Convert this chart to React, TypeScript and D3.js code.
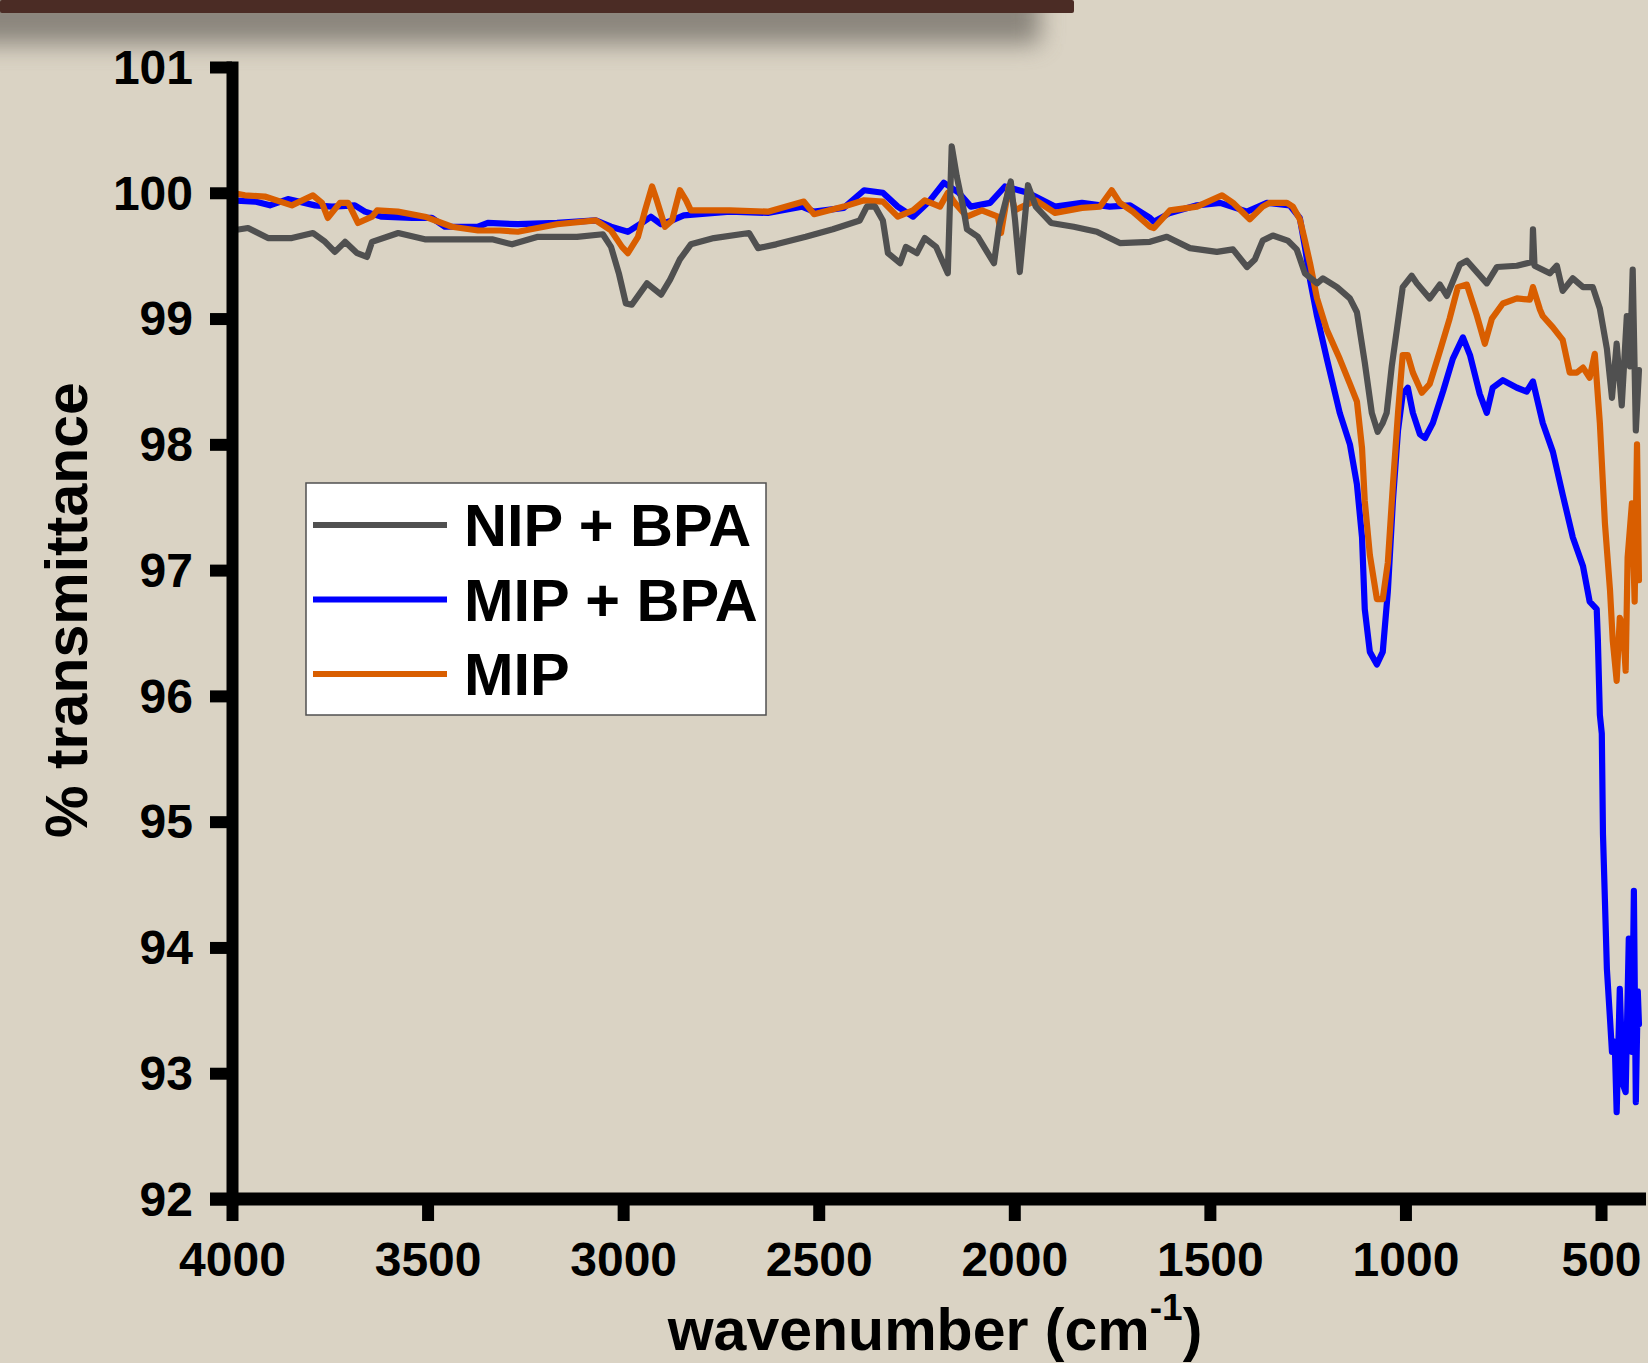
import { useEffect, useRef } from 'react'
import * as d3 from 'd3'

const WIDTH = 1648
const HEIGHT = 1363
const FONT = '"Liberation Sans", Arial, Helvetica, sans-serif'

const xTicks = [4000, 3500, 3000, 2500, 2000, 1500, 1000, 500]
const yTicks = [92, 93, 94, 95, 96, 97, 98, 99, 100, 101]

// NIP + BPA (grey)
const nipWn = [4000, 3959, 3908, 3847, 3793, 3762, 3737, 3711, 3680, 3655, 3642, 3575, 3507, 3422, 3335, 3284, 3251, 3218, 3118, 3052, 3031, 3011, 2993, 2978, 2939, 2903, 2880, 2855, 2827, 2768, 2678, 2655, 2609, 2533, 2464, 2395, 2377, 2356, 2336, 2323, 2292, 2277, 2249, 2229, 2200, 2170, 2160, 2147, 2131, 2121, 2093, 2052, 2039, 2009, 1998, 1986, 1965, 1945, 1906, 1848, 1789, 1730, 1653, 1610, 1551, 1482, 1441, 1405, 1385, 1365, 1339, 1301, 1278, 1257, 1226, 1211, 1175, 1142, 1124, 1104, 1086, 1071, 1058, 1048, 1035, 1022, 1007, 984, 971, 938, 912, 894, 861, 843, 792, 766, 715, 676, 674, 670, 631, 613, 598, 572, 546, 521, 503, 485, 472, 460, 447, 434, 426, 419, 411, 403]
const nipT = [99.70, 99.72, 99.64, 99.64, 99.68, 99.61, 99.53, 99.61, 99.52, 99.49, 99.61, 99.68, 99.63, 99.63, 99.63, 99.59, 99.62, 99.65, 99.65, 99.67, 99.57, 99.36, 99.12, 99.11, 99.28, 99.19, 99.31, 99.47, 99.59, 99.64, 99.68, 99.56, 99.59, 99.65, 99.71, 99.78, 99.89, 99.89, 99.78, 99.52, 99.44, 99.57, 99.52, 99.64, 99.57, 99.36, 100.37, 100.13, 99.89, 99.71, 99.65, 99.44, 99.73, 100.09, 99.78, 99.37, 100.06, 99.89, 99.76, 99.73, 99.69, 99.60, 99.61, 99.65, 99.56, 99.53, 99.55, 99.41, 99.47, 99.62, 99.66, 99.62, 99.55, 99.36, 99.28, 99.32, 99.25, 99.16, 99.05, 98.65, 98.25, 98.10, 98.17, 98.25, 98.62, 98.91, 99.25, 99.34, 99.28, 99.16, 99.27, 99.18, 99.43, 99.46, 99.28, 99.41, 99.42, 99.45, 99.71, 99.42, 99.36, 99.42, 99.22, 99.32, 99.25, 99.25, 99.08, 98.76, 98.37, 98.80, 98.31, 99.02, 98.62, 99.39, 98.11, 98.59]

// MIP + BPA (blue)
const mipBpaWn = [4000, 3941, 3903, 3857, 3788, 3744, 3686, 3660, 3617, 3540, 3489, 3456, 3371, 3346, 3269, 3169, 3070, 3031, 2988, 2952, 2929, 2903, 2875, 2845, 2727, 2630, 2543, 2512, 2436, 2384, 2336, 2298, 2259, 2218, 2180, 2142, 2111, 2062, 2024, 1965, 1896, 1827, 1756, 1704, 1653, 1643, 1602, 1533, 1474, 1405, 1354, 1296, 1270, 1257, 1244, 1226, 1201, 1168, 1142, 1124, 1111, 1104, 1091, 1073, 1058, 1045, 1032, 1019, 1007, 994, 981, 963, 950, 930, 904, 879, 853, 835, 810, 792, 777, 751, 715, 690, 674, 649, 623, 598, 572, 546, 529, 511, 508, 503, 498, 495, 490, 485, 477, 472, 465, 460, 452, 444, 437, 429, 421, 416, 411, 406, 403]
const mipBpaT = [99.94, 99.93, 99.90, 99.95, 99.90, 99.89, 99.90, 99.85, 99.81, 99.80, 99.80, 99.73, 99.73, 99.76, 99.75, 99.76, 99.78, 99.73, 99.69, 99.76, 99.81, 99.75, 99.78, 99.82, 99.85, 99.84, 99.89, 99.85, 99.88, 100.02, 100.00, 99.89, 99.81, 99.93, 100.08, 100.00, 99.89, 99.92, 100.05, 100.00, 99.89, 99.92, 99.89, 99.90, 99.80, 99.77, 99.84, 99.90, 99.92, 99.85, 99.92, 99.90, 99.80, 99.57, 99.31, 99.02, 98.68, 98.25, 98.00, 97.68, 97.26, 96.69, 96.35, 96.25, 96.35, 96.83, 97.55, 98.11, 98.40, 98.45, 98.25, 98.08, 98.05, 98.17, 98.42, 98.68, 98.85, 98.71, 98.40, 98.25, 98.45, 98.51, 98.45, 98.42, 98.50, 98.17, 97.94, 97.60, 97.26, 97.03, 96.75, 96.69, 96.44, 95.85, 95.70, 94.90, 94.37, 93.83, 93.43, 93.17, 93.25, 92.69, 93.67, 92.91, 92.85, 94.07, 93.17, 94.45, 92.77, 93.65, 93.39]

// MIP (orange)
const mipWn = [4000, 3967, 3916, 3847, 3793, 3770, 3755, 3724, 3703, 3678, 3642, 3629, 3576, 3507, 3438, 3371, 3315, 3269, 3169, 3070, 3031, 3003, 2988, 2962, 2944, 2926, 2914, 2893, 2875, 2855, 2839, 2827, 2727, 2630, 2538, 2512, 2436, 2384, 2336, 2298, 2259, 2229, 2190, 2170, 2152, 2121, 2083, 2042, 2034, 2014, 1998, 1986, 1945, 1896, 1827, 1781, 1751, 1730, 1697, 1653, 1643, 1602, 1533, 1469, 1441, 1398, 1365, 1347, 1303, 1288, 1270, 1257, 1244, 1226, 1201, 1168, 1142, 1124, 1111, 1104, 1091, 1073, 1058, 1045, 1032, 1019, 1007, 994, 981, 958, 938, 912, 887, 866, 843, 817, 797, 779, 751, 715, 682, 674, 656, 649, 623, 598, 580, 562, 546, 529, 516, 503, 490, 477, 470, 460, 452, 444, 437, 432, 421, 414, 408, 403]
const mipT = [100.00, 99.98, 99.97, 99.90, 99.98, 99.92, 99.80, 99.92, 99.92, 99.76, 99.81, 99.86, 99.85, 99.81, 99.73, 99.70, 99.70, 99.69, 99.75, 99.78, 99.70, 99.57, 99.52, 99.65, 99.86, 100.05, 99.94, 99.73, 99.78, 100.02, 99.94, 99.86, 99.86, 99.85, 99.93, 99.83, 99.89, 99.94, 99.93, 99.81, 99.86, 99.94, 99.89, 100.00, 99.92, 99.81, 99.86, 99.81, 99.68, 100.05, 99.86, 99.88, 99.94, 99.84, 99.88, 99.89, 100.02, 99.92, 99.85, 99.73, 99.72, 99.86, 99.89, 99.98, 99.92, 99.79, 99.89, 99.92, 99.92, 99.89, 99.79, 99.62, 99.44, 99.16, 98.91, 98.68, 98.48, 98.34, 97.97, 97.55, 97.12, 96.77, 96.77, 97.06, 97.68, 98.25, 98.71, 98.71, 98.57, 98.41, 98.48, 98.74, 99.00, 99.25, 99.27, 99.02, 98.80, 99.00, 99.12, 99.16, 99.15, 99.25, 99.07, 99.02, 98.93, 98.83, 98.57, 98.57, 98.61, 98.53, 98.72, 98.17, 97.37, 96.84, 96.44, 96.12, 96.62, 96.55, 96.20, 97.10, 97.53, 96.75, 98.00, 96.92]

const seriesLabels = ['NIP + BPA', 'MIP + BPA', 'MIP']
const seriesColors = ['#505050', '#0000ff', '#d95e00']
const seriesWn = [nipWn, mipBpaWn, mipWn]
const seriesT = [nipT, mipBpaT, mipT]

export default function App() {
  const svgRef = useRef(null)

  useEffect(() => {
    const svg = d3.select(svgRef.current)
    svg.selectAll('*').remove()

    const x = d3.scaleLinear().domain([4000, 385]).range([232, 1646])
    const y = d3.scaleLinear().domain([92, 101]).range([1199, 67])

    // background
    svg.append('rect').attr('width', WIDTH).attr('height', HEIGHT).attr('fill', '#dad3c4')

    // brown bar with a soft shadow at the top
    const defs = svg.append('defs')
    defs.append('filter').attr('id', 'blur').attr('x', '-20%').attr('y', '-100%').attr('width', '140%').attr('height', '300%')
      .append('feGaussianBlur').attr('stdDeviation', 12)
    svg.append('rect').attr('x', -30).attr('y', -10).attr('width', 1070).attr('height', 54)
      .attr('fill', '#77726a').attr('opacity', 0.8).attr('filter', 'url(#blur)')
    svg.append('rect').attr('x', 0).attr('y', 0).attr('width', 1074).attr('height', 13)
      .attr('fill', '#4b2c25').attr('rx', 2)

    // series lines: blue, orange, then grey on top
    const line = d3.line<number>().x(d => x(d[0])).y(d => y(d[1]))
    ;[1, 2, 0].forEach(i => {
      const pts = seriesWn[i].map((w, k) => [w, seriesT[i][k]])
      svg.append('path').datum(pts).attr('d', line as any)
        .attr('fill', 'none').attr('stroke', seriesColors[i]).attr('stroke-width', 6.2)
        .attr('stroke-linejoin', 'round').attr('stroke-linecap', 'round')
    })

    // y axis
    svg.append('g')
      .attr('transform', `translate(${x(4000)},0)`)
      .call(d3.axisLeft(y).tickValues(yTicks).tickSize(22).tickSizeOuter(0).tickFormat(d3.format('d')))
      .call(g => g.select('.domain').attr('stroke', '#000').attr('stroke-width', 12).attr('stroke-linecap', 'square'))
      .call(g => g.selectAll('.tick line').attr('stroke', '#000').attr('stroke-width', 12))
      .call(g => g.selectAll('text').attr('x', -39).attr('dy', '0.34em')
        .attr('font-family', FONT).attr('font-weight', 'bold').attr('font-size', 48).attr('fill', '#000'))

    // x axis
    svg.append('g')
      .attr('transform', `translate(0,${y(92)})`)
      .call(d3.axisBottom(x).tickValues(xTicks).tickSize(22).tickSizeOuter(0).tickFormat(d3.format('d')))
      .call(g => g.select('.domain').remove())
      .call(g => g.selectAll('.tick line').attr('stroke', '#000').attr('stroke-width', 12))
      .call(g => g.selectAll('text').attr('y', 77).attr('dy', 0)
        .attr('font-family', FONT).attr('font-weight', 'bold').attr('font-size', 48).attr('fill', '#000'))
      .call(g => g.append('line')
        .attr('x1', x(4000) - 22).attr('x2', x.range()[1])
        .attr('stroke', '#000').attr('stroke-width', 13))

    // axis titles
    const xt = svg.append('text')
      .attr('x', 935).attr('y', 1350)
      .attr('text-anchor', 'middle').attr('font-family', FONT).attr('font-weight', 'bold')
      .attr('font-size', 59).attr('fill', '#000')
    xt.append('tspan').text('wavenumber (cm')
    xt.append('tspan').attr('font-size', 37).attr('dy', -30).text('-1')
    xt.append('tspan').attr('dy', 30).text(')')

    svg.append('text')
      .attr('transform', `translate(87,610) rotate(-90)`)
      .attr('text-anchor', 'middle').attr('font-family', FONT).attr('font-weight', 'bold')
      .attr('font-size', 59).attr('fill', '#000')
      .text('% transmittance')

    // legend
    const lg = svg.append('g').attr('transform', 'translate(306,483)')
    lg.append('rect').attr('width', 460).attr('height', 232)
      .attr('fill', '#fff').attr('stroke', '#505050').attr('stroke-width', 1.5)
    seriesLabels.forEach((label, i) => {
      const cy = 42 + i * 74.5
      lg.append('line').attr('x1', 7).attr('x2', 141).attr('y1', cy).attr('y2', cy)
        .attr('stroke', seriesColors[i]).attr('stroke-width', 6)
      lg.append('text').attr('x', 158).attr('y', cy + 21)
        .attr('font-family', FONT).attr('font-weight', 'bold').attr('font-size', 59.5).attr('fill', '#000')
        .text(label)
    })
  }, [])

  return (
    <div style={{ position: 'absolute', left: 0, top: 0 }}>
      <svg ref={svgRef} width={WIDTH} height={HEIGHT} style={{ display: 'block' }} />
    </div>
  )
}
